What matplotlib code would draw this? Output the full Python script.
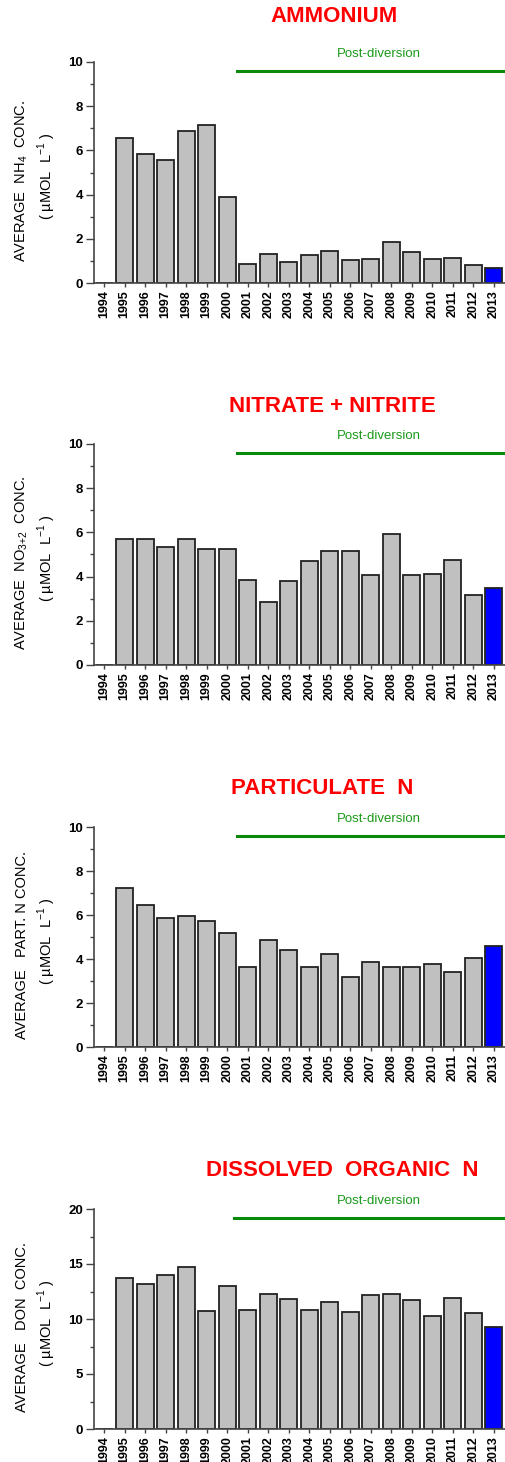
import matplotlib
matplotlib.use("Agg")
import matplotlib.pyplot as plt
from matplotlib.ticker import MultipleLocator

plt.rcParams["font.family"] = ["Liberation Sans", "DejaVu Sans"]
plt.rcParams["mathtext.fontset"] = "custom"
plt.rcParams["mathtext.rm"] = "Liberation Sans"

years = list(range(1994, 2014))

# 1994 has no data (drawn as empty slot)
nh4 = [0, 6.58, 5.85, 5.58, 6.90, 7.17, 3.87, 0.86, 1.32, 0.95, 1.27,
       1.47, 1.06, 1.09, 1.85, 1.41, 1.10, 1.13, 0.83, 0.70]
no32 = [0, 5.72, 5.68, 5.32, 5.71, 5.27, 5.24, 3.85, 2.85, 3.79, 4.70,
        5.17, 5.17, 4.09, 5.91, 4.09, 4.14, 4.77, 3.16, 3.47]
part_n = [0, 7.23, 6.45, 5.86, 5.94, 5.73, 5.17, 3.65, 4.88, 4.42, 3.62,
          4.24, 3.20, 3.86, 3.62, 3.65, 3.79, 3.42, 4.05, 4.61]
don = [0, 13.77, 13.22, 13.98, 14.77, 10.71, 13.01, 10.83, 12.28, 11.83, 10.83,
       11.53, 10.62, 12.19, 12.25, 11.74, 10.29, 11.95, 10.53, 9.25]

titles = ["AMMONIUM", "NITRATE + NITRITE", "PARTICULATE  N", "DISSOLVED  ORGANIC  N"]
ylabels = [r"AVERAGE  NH$_4$  CONC.", r"AVERAGE  NO$_{3{+}2}$  CONC.",
           "AVERAGE   PART. N CONC.", "AVERAGE   DON  CONC."]
unit_label = r"( µMOL  L$^{-1}$ )"
series = [nh4, no32, part_n, don]
ymax = [10, 10, 10, 20]
ystep = [2, 2, 2, 5]

W, H = 505, 1462
# axes boxes in pixels: (top, bottom)
boxes = [(62, 283), (444, 665), (827, 1047), (1209, 1429)]
title_pos = [(334, 17), (332, 407), (322, 788), (342, 1170)]
ax_left, ax_right = 94, 505

fig = plt.figure(figsize=(W / 100, H / 100), dpi=100)

for i, vals in enumerate(series):
    top, bot = boxes[i]
    ax = fig.add_axes([ax_left / W, 1 - bot / H, (ax_right - ax_left) / W, (bot - top) / H])
    colors = ["#c0c0c0"] * (len(years) - 1) + ["#0000ff"]
    ax.bar(years, vals, width=0.82, color=colors, edgecolor="#222222", linewidth=1.3, zorder=2)
    ax.set_xlim(1993.5, 2013.55)
    ax.set_ylim(0, ymax[i])
    ax.yaxis.set_major_locator(MultipleLocator(ystep[i]))
    ax.yaxis.set_minor_locator(MultipleLocator(ystep[i] / 2))
    ax.set_xticks(years)
    ax.set_xticklabels([str(y) for y in years], rotation=90, fontweight="bold", fontsize=9)
    for lab in ax.get_yticklabels():
        lab.set_fontweight("bold")
    ax.tick_params(axis="y", which="major", length=6, width=1, labelsize=9.5, pad=2, color="#444444")
    ax.tick_params(axis="y", which="minor", length=3, width=1, color="#444444")
    ax.tick_params(axis="x", which="major", length=3, width=1, pad=2, color="#444444")
    for s in ["top", "right"]:
        ax.spines[s].set_visible(False)
    for s in ["left", "bottom"]:
        ax.spines[s].set_linewidth(1.2)
        ax.spines[s].set_color("#444444")
    yline = 0.958 * ymax[i]
    x0 = 2000.49 if i < 3 else 2000.35
    ax.plot([x0, 2013.55], [yline, yline], color="#0a8a0a", lw=2.2, clip_on=False, zorder=3)
    ax.text(2007.4, 1.038 * ymax[i], "Post-diversion", color="#1a9a1a", fontsize=9.5,
            ha="center", va="center", clip_on=False)

    ymid = (top + bot) / 2
    fig.text(22 / W, 1 - (ymid + 8) / H, ylabels[i], rotation=90, ha="center", va="center",
             fontsize=10.5)
    fig.text(47 / W, 1 - (ymid + 4) / H, unit_label, rotation=90, ha="center", va="center",
             fontsize=10.5)

    tx, ty = title_pos[i]
    fig.text(tx / W, 1 - ty / H, titles[i], color="#ff0000", fontsize=16, fontweight="bold",
             ha="center", va="center")

fig.savefig("out.png", dpi=100)
